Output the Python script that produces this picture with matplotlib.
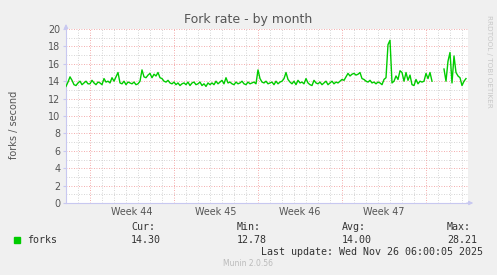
import numpy as np
import matplotlib
matplotlib.use("Agg")
import matplotlib.pyplot as plt

# Fork rate samples, one every 4 hours, starting 2 days before week 44 (Mon)
START_DAY = -2.0
STEP_DAYS = 4 / 24.0
forks = [
    13.4, 13.9, 14.5, 14.1, 13.6, 13.5,
    13.8, 14.0, 13.6, 13.8, 14.0, 13.7,
    13.7, 14.1, 13.8, 13.6, 13.9, 13.8,
    13.6, 14.3, 13.9, 14.0, 13.8, 14.4,
    14.0, 14.5, 15.0, 13.8, 13.7, 14.0,
    13.6, 13.9, 13.8, 13.7, 13.9, 13.6,
    13.7, 14.0, 15.3, 14.5, 14.4, 14.7,
    14.9, 14.4, 14.8, 14.6, 15.0, 14.4,
    14.3, 14.0, 13.9, 14.1, 13.8, 13.7,
    13.9, 13.6, 13.8, 13.5, 13.7, 13.8,
    13.6, 13.9, 13.5, 13.8, 13.9, 13.6,
    13.7, 13.9, 13.5, 13.7, 13.4, 13.8,
    13.6, 13.8, 13.6, 14.0, 13.7, 13.9,
    14.1, 13.7, 14.4, 13.8, 13.9, 13.7,
    13.6, 13.9, 13.7, 13.8, 14.0, 13.7,
    13.6, 13.9, 13.7, 13.8, 13.9, 13.7,
    15.3, 14.3, 13.9, 13.8, 14.0, 13.7,
    13.8, 13.9, 13.6, 14.0, 13.7, 13.9,
    14.0, 14.3, 15.0, 14.2, 13.9, 13.7,
    14.0, 13.6, 14.1, 13.8, 13.9, 13.7,
    14.3, 13.8, 13.6, 13.5, 14.1, 13.8,
    13.7, 13.9, 13.6, 13.8, 14.0, 13.6,
    13.8, 14.0, 13.7, 13.9, 13.8, 14.0,
    14.2, 14.1, 14.5, 14.9, 14.6, 14.8,
    14.9, 14.7, 14.8, 15.0, 14.3, 14.2,
    14.0, 13.9, 14.1, 13.8, 13.9, 13.7,
    13.9, 13.8, 13.6, 14.2, 14.4, 18.2,
    18.7, 13.8, 14.0, 14.6, 14.2, 15.2,
    15.0, 14.0, 15.0, 14.1, 14.7, 13.6,
    13.5, 14.2, 13.7, 14.0, 13.9, 14.0,
    14.9, 14.3, 15.0, 14.0, np.nan, np.nan,
    np.nan, np.nan, np.nan, 15.4, 14.0, 16.3,
    17.3, 13.8, 16.9, 15.0, 14.6, 14.4,
    13.5, 14.0, 14.3,
]
week_labels = ["Week 44", "Week 45", "Week 46", "Week 47"]
stat_names = ["Cur:", "Min:", "Avg:", "Max:"]
stat_values = ["14.30", "12.78", "14.00", "28.21"]

W, H = 497, 275
fig = plt.figure(figsize=(W / 100, H / 100), dpi=100, facecolor="#F0F0F0")

def fx(x):
    return x / W

def fy(y):
    return 1 - y / H

# plot area in pixels: x 66..468, y 29..203
ax = fig.add_axes([fx(66), fy(203), (468 - 66) / W, (203 - 29) / H])
ax.set_facecolor("white")

days = START_DAY + STEP_DAYS * np.arange(len(forks))
ax.plot(days, forks, color="#00CC00", lw=1.0, zorder=3)

ax.set_xlim(-2, 31.5)
ax.set_ylim(0, 20)

# grid: minor gray, major red, all dotted
for d in np.arange(-1, 32):
    if d % 7 == 0:
        continue
    ax.axvline(d, color="#C8C8C8", lw=0.6, ls=(0, (1, 2)), zorder=1)
for v in range(1, 20, 2):
    ax.axhline(v, color="#C8C8C8", lw=0.6, ls=(0, (1, 2)), zorder=1)
for d in range(0, 32, 7):
    ax.axvline(d, color="#F09090", lw=0.6, ls=(0, (1, 2)), zorder=2)
for v in range(2, 21, 2):
    ax.axhline(v, color="#F09090", lw=0.6, ls=(0, (1, 2)), zorder=2)

for s in ["top", "right"]:
    ax.spines[s].set_visible(False)
for s in ["left", "bottom"]:
    ax.spines[s].set_color("#C8C8F0")
    ax.spines[s].set_linewidth(0.8)

ax.set_yticks(range(0, 21, 2))
ax.set_yticklabels([str(v) for v in range(0, 21, 2)])
ax.set_xticks([3.5 + 7 * i for i in range(len(week_labels))])
ax.set_xticklabels(week_labels)
ax.tick_params(axis="both", length=0, labelsize=6.9, colors="#555555", pad=3)
ax.tick_params(axis="y", length=2, color="#C8C8F0", pad=2)

# axis arrows
ax.annotate("", xy=(0, 1.045), xytext=(0, 0.99), xycoords="axes fraction",
            arrowprops=dict(arrowstyle="-|>", color="#C8C8F0", lw=0.8, mutation_scale=6),
            annotation_clip=False)
ax.annotate("", xy=(1.02, 0), xytext=(0.99, 0), xycoords="axes fraction",
            arrowprops=dict(arrowstyle="-|>", color="#C8C8F0", lw=0.8, mutation_scale=6),
            annotation_clip=False)

fig.text(fx(248), fy(19), "Fork rate - by month", ha="center", va="center",
         fontsize=9, color="#555555")
fig.text(fx(14), fy(125), "forks / second", rotation=90, ha="center", va="center",
         fontsize=7, color="#555555")
fig.text(fx(489), fy(15), "RRDTOOL / TOBI OETIKER", rotation=270, ha="center", va="top",
         fontsize=5.2, color="#C8C8C8")

mono = "DejaVu Sans Mono"
fig.patches.append(plt.Rectangle((fx(14), fy(243)), 6 / W, 6 / H, color="#00CC00",
                                 transform=fig.transFigure, figure=fig))
fig.text(fx(27), fy(240), "forks", ha="left", va="center", fontsize=7.2,
         family=mono, color="#333333")
for i, (name, val) in enumerate(zip(stat_names, stat_values)):
    xpos = [131, 237, 342, 447][i]
    fig.text(fx(xpos), fy(227), name, ha="left", va="center", fontsize=7.2,
             family=mono, color="#333333")
    fig.text(fx(xpos), fy(240), val, ha="left", va="center", fontsize=7.2,
             family=mono, color="#333333")
fig.text(fx(483), fy(252), "Last update: Wed Nov 26 06:00:05 2025", ha="right",
         va="center", fontsize=7.2, family=mono, color="#333333")
fig.text(fx(248), fy(264), "Munin 2.0.56", ha="center", va="center",
         fontsize=5.5, color="#BBBBBB")

fig.savefig("out.png", dpi=100, facecolor=fig.get_facecolor())
